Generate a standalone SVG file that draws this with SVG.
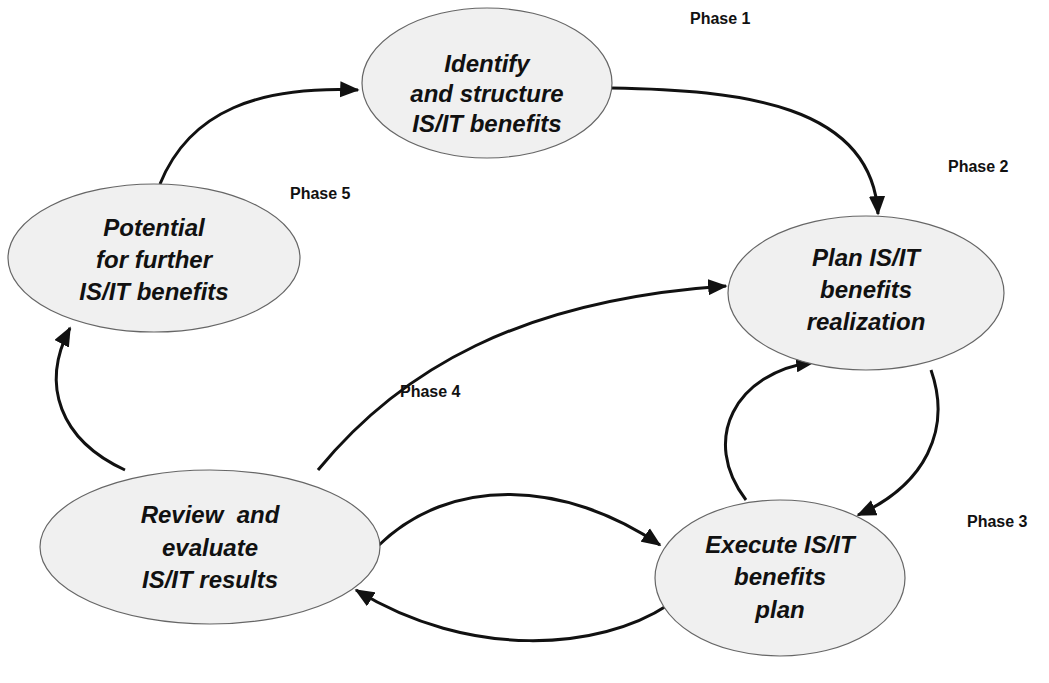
<svg xmlns="http://www.w3.org/2000/svg" width="1049" height="683" viewBox="0 0 1049 683">
  <style>
    .node ellipse { fill: #f0f0f0; stroke: #666666; stroke-width: 1.2; }
    .node text { font-family: "Liberation Sans", Arial, sans-serif; font-size: 24px; font-weight: bold; font-style: italic; fill: #111; text-anchor: middle; }
    .phase { font-family: "Liberation Sans", Arial, sans-serif; font-size: 16px; font-weight: bold; fill: #111; }
    .edge { fill: none; stroke: #111; stroke-width: 3; marker-end: url(#arrow); }
  </style>
  <defs>
    <marker id="arrow" viewBox="0 0 12 10" refX="11" refY="5" markerWidth="6.5" markerHeight="5.5" orient="auto" markerUnits="strokeWidth">
      <path d="M0 0 L12 5 L0 10 Z" fill="#111"/>
    </marker>
  </defs>
  <rect width="1049" height="683" fill="#ffffff"/>

  <g id="connectors">
    <path class="edge" d="M160 184 C 190 110, 260 86, 358 90"/>
    <path class="edge" d="M611 88 C 740 90, 872 104, 878 214"/>
    <path class="edge" d="M931 370 C 952 430, 925 485, 858 515"/>
    <path class="edge" d="M746 500 C 700 440, 735 372, 814 362"/>
    <path class="edge" d="M318 470 C 400 370, 520 300, 726 286"/>
    <path class="edge" d="M378 546 C 450 475, 565 480, 660 545"/>
    <path class="edge" d="M668 605 C 600 650, 470 660, 356 590"/>
    <path class="edge" d="M125 470 C 60 440, 40 385, 70 328"/>
  </g>

  <g id="node-identify" class="node">
    <ellipse cx="487" cy="83" rx="125" ry="75"/>
    <text x="487" y="72">Identify</text>
    <text x="487" y="102">and structure</text>
    <text x="487" y="132">IS/IT benefits</text>
  </g>
  <g id="node-plan" class="node">
    <ellipse cx="866" cy="293" rx="138" ry="77"/>
    <text x="866" y="266">Plan IS/IT</text>
    <text x="866" y="298">benefits</text>
    <text x="866" y="330">realization</text>
  </g>
  <g id="node-execute" class="node">
    <ellipse cx="780" cy="578" rx="125" ry="78"/>
    <text x="780" y="553">Execute IS/IT</text>
    <text x="780" y="585">benefits</text>
    <text x="780" y="618">plan</text>
  </g>
  <g id="node-review" class="node">
    <ellipse cx="210" cy="547" rx="170" ry="77"/>
    <text x="210" y="523" xml:space="preserve">Review  and</text>
    <text x="210" y="556">evaluate</text>
    <text x="210" y="588">IS/IT results</text>
  </g>
  <g id="node-potential" class="node">
    <ellipse cx="154" cy="258" rx="146" ry="74"/>
    <text x="154" y="236">Potential</text>
    <text x="154" y="268">for further</text>
    <text x="154" y="300">IS/IT benefits</text>
  </g>

  <g id="labels">
    <text class="phase" x="690" y="24">Phase 1</text>
    <text class="phase" x="948" y="172">Phase 2</text>
    <text class="phase" x="967" y="527">Phase 3</text>
    <text class="phase" x="400" y="397">Phase 4</text>
    <text class="phase" x="290" y="199">Phase 5</text>
  </g>
</svg>
